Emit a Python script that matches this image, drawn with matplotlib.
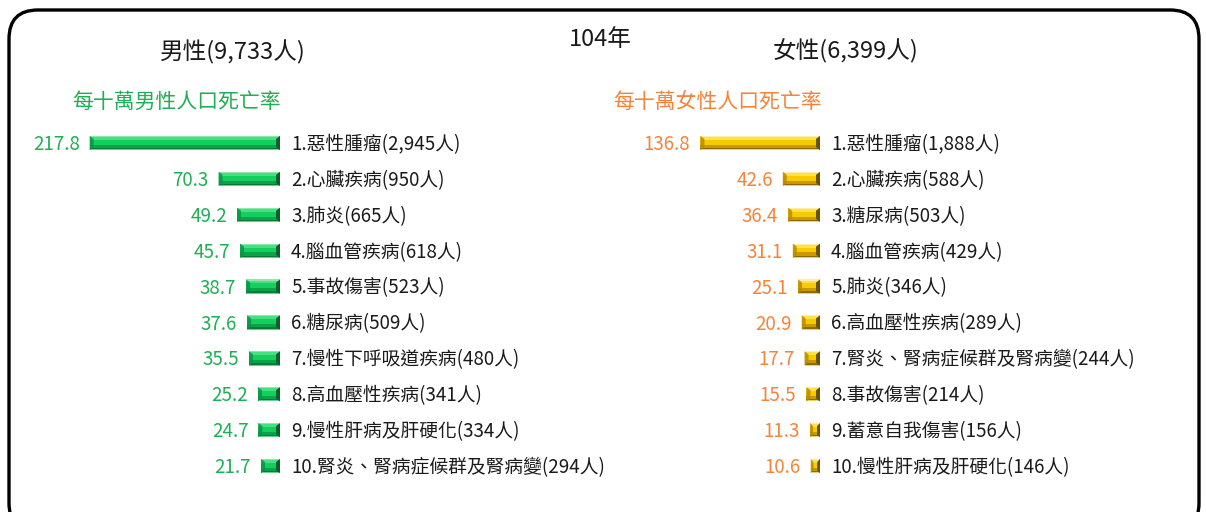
import matplotlib
matplotlib.use("Agg")
import matplotlib.pyplot as plt
from matplotlib.patches import FancyBboxPatch, Polygon

plt.rcParams['font.family'] = ['Noto Sans CJK TC', 'DejaVu Sans']

# ---------------------------------------------------------------- data
year_title = "104年"
male_title = "男性(9,733人)"
female_title = "女性(6,399人)"
male_sub = "每十萬男性人口死亡率"
female_sub = "每十萬女性人口死亡率"

male_causes = ["惡性腫瘤", "心臟疾病", "肺炎", "腦血管疾病", "事故傷害",
               "糖尿病", "慢性下呼吸道疾病", "高血壓性疾病", "慢性肝病及肝硬化",
               "腎炎、腎病症候群及腎病變"]
male_deaths = [2945, 950, 665, 618, 523, 509, 480, 341, 334, 294]
male_rates = [217.8, 70.3, 49.2, 45.7, 38.7, 37.6, 35.5, 25.2, 24.7, 21.7]

female_causes = ["惡性腫瘤", "心臟疾病", "糖尿病", "腦血管疾病", "肺炎",
                 "高血壓性疾病", "腎炎、腎病症候群及腎病變", "事故傷害",
                 "蓄意自我傷害", "慢性肝病及肝硬化"]
female_deaths = [1888, 588, 503, 429, 346, 289, 244, 214, 156, 146]
female_rates = [136.8, 42.6, 36.4, 31.1, 25.1, 20.9, 17.7, 15.5, 11.3, 10.6]

# ---------------------------------------------------------------- styles
W, H = 1206, 512
px_per_unit = 0.874
xmax = 250.0
row_px = 35.9
bar_h = 0.40

green_text = "#1FAF55"
orange_text = "#F5843A"
label_color = "#1A1A1A"

# bevel bands, top to bottom: (fraction of bar height, colour)
green_bands = [(0.08, "#8BE9AC"), (0.20, "#45E082"), (0.34, "#12CF5E"),
               (0.22, "#0CA24A"), (0.09, "#087A37"), (0.07, "#6CCF92")]
green_caps = ("#0B9446", "#0A5E2E")
gold_bands = [(0.08, "#FFEFA0"), (0.20, "#FFE14A"), (0.34, "#F7CB00"),
              (0.22, "#C99A00"), (0.09, "#8C6A00"), (0.07, "#E8CF7A")]
gold_caps = ("#B98C00", "#6B5100")

fig = plt.figure(figsize=(W / 100, H / 100), dpi=100)

# rounded frame running off the bottom edge
frame = FancyBboxPatch((9 / W, -20 / H), 1190 / W, (H - 10 + 20) / H,
                       boxstyle="round,pad=0,rounding_size=0.024",
                       transform=fig.transFigure, facecolor="none",
                       edgecolor="black", linewidth=2.4, mutation_aspect=W / H)
fig.patches.append(frame)


def bevel_bar(ax, y, val, bands, caps):
    top = y - bar_h / 2
    for frac, col in bands:
        h = bar_h * frac
        ax.barh(top + h / 2, val, height=h, left=0, color=col,
                linewidth=0, antialiased=False)
        top += h
    cw = min(4.0 / px_per_unit, val * 0.3)
    inset = bar_h * 0.22
    t, b = y - bar_h / 2, y + bar_h / 2
    ax.add_patch(Polygon([(val, t), (val - cw, t + inset), (val - cw, b - inset), (val, b)],
                         closed=True, facecolor=caps[0], linewidth=0, alpha=0.85))
    ax.add_patch(Polygon([(0, t), (cw, t + inset), (cw, b - inset), (0, b)],
                         closed=True, facecolor=caps[1], linewidth=0))


def panel(right_px, causes, deaths, rates, bands, caps, val_color):
    width_px = xmax * px_per_unit
    top_px = 143 - row_px / 2
    height_px = row_px * len(rates)
    ax = fig.add_axes([(right_px - width_px) / W, (H - top_px - height_px) / H,
                       width_px / W, height_px / H])
    ax.set_xlim(xmax, 0)
    ax.set_ylim(len(rates) - 0.5, -0.5)
    ax.axis("off")
    for i, (c, d, r) in enumerate(zip(causes, deaths, rates)):
        bevel_bar(ax, i, r, bands, caps)
        ax.annotate(f"{r:.1f}", xy=(r, i), xytext=(-10, -1.5), textcoords="offset pixels",
                    ha="right", va="center", fontsize=13.5, color=val_color,
                    annotation_clip=False)
        ax.annotate(f"{i + 1}.{c}({d:,}人)", xy=(0, i), xytext=(11, -1.5),
                    textcoords="offset pixels", ha="left", va="center",
                    fontsize=13.5, color=label_color, annotation_clip=False)
    return ax


panel(280, male_causes, male_deaths, male_rates, green_bands, green_caps, green_text)
panel(820, female_causes, female_deaths, female_rates, gold_bands, gold_caps, orange_text)

# titles
fig.text(233 / W, 1 - 52 / H, male_title, ha="center", va="center", fontsize=17, color=label_color)
fig.text(845 / W, 1 - 51 / H, female_title, ha="center", va="center", fontsize=17, color=label_color)
fig.text(600 / W, 1 - 40 / H, year_title, ha="center", va="center", fontsize=17, color=label_color)
fig.text(72 / W, 1 - 102 / H, male_sub, ha="left", va="center", fontsize=15, color=green_text)
fig.text(613 / W, 1 - 102 / H, female_sub, ha="left", va="center", fontsize=15, color=orange_text)

fig.savefig("out.png", dpi=100)
